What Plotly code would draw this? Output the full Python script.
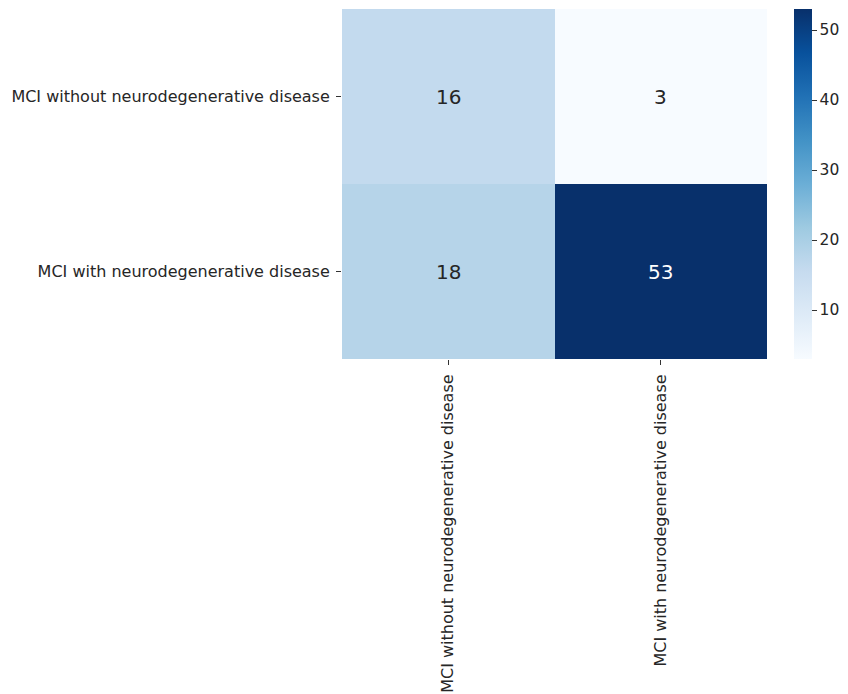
import plotly.graph_objects as go

# Confusion matrix: rows = true class, columns = predicted class
labels = ["MCI without neurodegenerative disease", "MCI with neurodegenerative disease"]
counts = [
    [16, 3],
    [18, 53],
]
z_min, z_max = 3, 53
cbar_ticks = [10, 20, 30, 40, 50]

font_family = "DejaVu Sans"

annotations = []
for i, row in enumerate(counts):
    for j, v in enumerate(row):
        dark = (v - z_min) / (z_max - z_min) > 0.5
        annotations.append(dict(
            x=labels[j], y=labels[i], text=str(v), showarrow=False,
            font=dict(family=font_family, size=20, color="white" if dark else "#262626"),
        ))

fig = go.Figure(go.Heatmap(
    z=counts, x=labels, y=labels,
    colorscale="Blues", zmin=z_min, zmax=z_max,
    xgap=0, ygap=0,
    colorbar=dict(
        x=1.0626, xanchor="left", xpad=0, y=0.5, yanchor="middle", ypad=0,
        len=1.0, thickness=18, outlinewidth=0,
        tickvals=cbar_ticks, ticks="outside", ticklen=5, tickcolor="#333",
        tickfont=dict(family=font_family, size=15.5, color="#262626"),
    ),
))

fig.update_layout(
    width=848, height=694,
    margin=dict(l=342, r=75, t=9, b=335),
    paper_bgcolor="white", plot_bgcolor="white",
    annotations=annotations,
    font=dict(family=font_family, size=16, color="#262626"),
)
fig.update_xaxes(
    tickangle=-90, ticks="outside", ticklen=5, tickcolor="#333",
    showgrid=False, zeroline=False, showline=False,
    tickfont=dict(size=16), automargin=False, ticklabelstandoff=3,
)
fig.update_yaxes(
    autorange="reversed", ticks="outside", ticklen=5, tickcolor="#333",
    showgrid=False, zeroline=False, showline=False,
    tickfont=dict(size=16), automargin=False, ticklabelstandoff=3,
)

fig.write_html("out.html")
